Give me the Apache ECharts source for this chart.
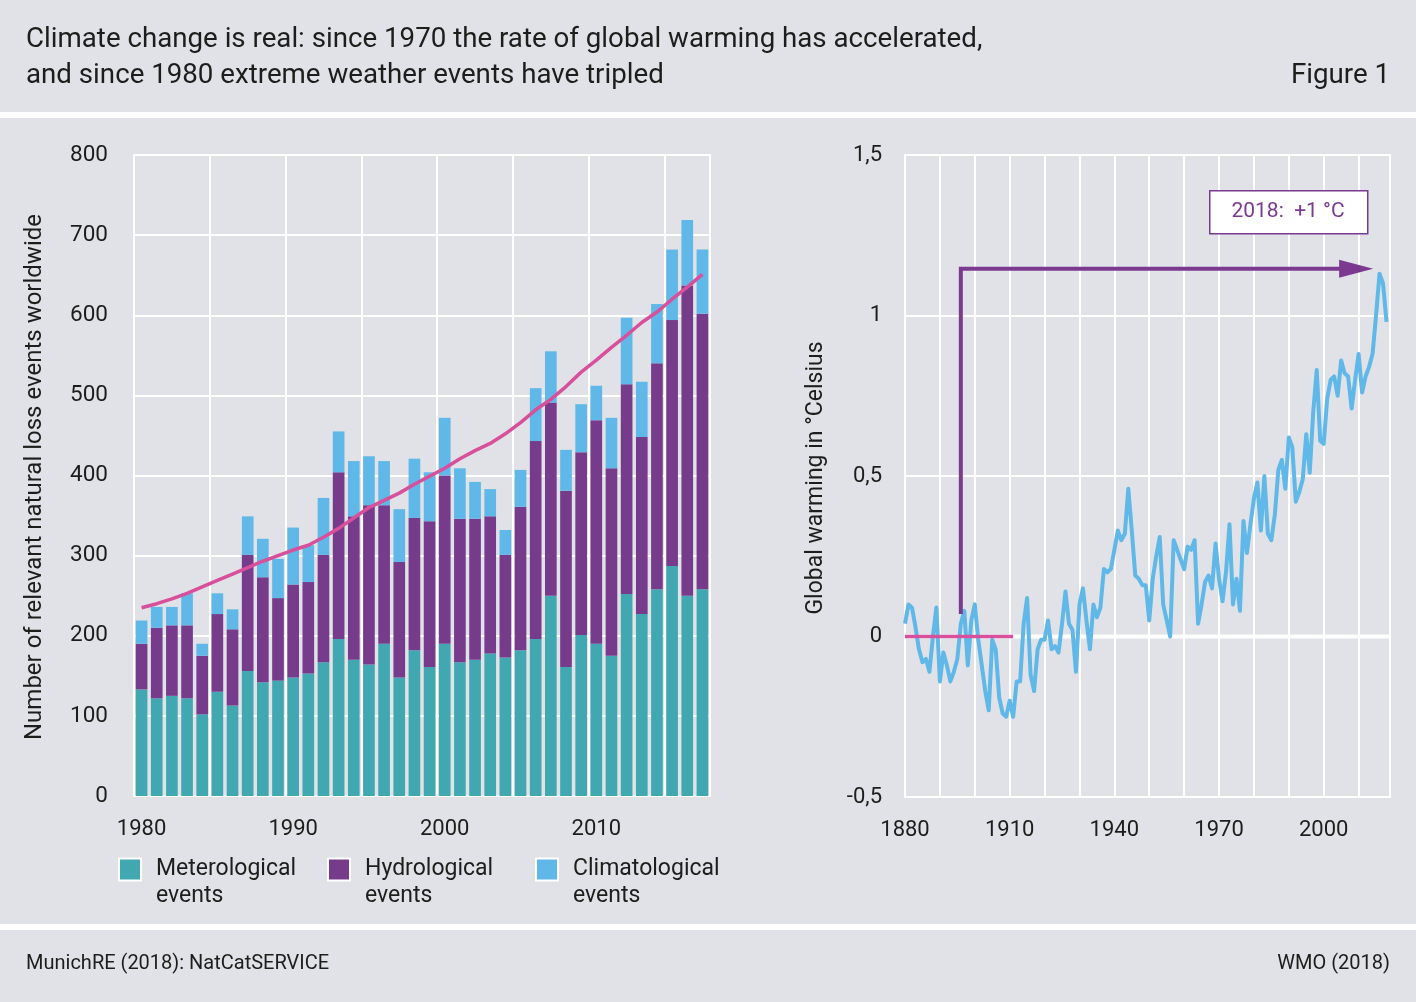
<!DOCTYPE html>
<html><head><meta charset="utf-8">
<script src="https://cdn.jsdelivr.net/npm/echarts@6.0.0/dist/echarts.min.js"></script>
<style>html,body{margin:0;padding:0;background:#e1e2e7;}#c{width:1416px;height:1002px;}</style>
</head><body><div id="c"></div>
<script>
// ---------- Left chart data ----------
const YEARS = ['1980','1981','1982','1983','1984','1985','1986','1987','1988','1989',
  '1990','1991','1992','1993','1994','1995','1996','1997','1998','1999',
  '2000','2001','2002','2003','2004','2005','2006','2007','2008','2009',
  '2010','2011','2012','2013','2014','2015','2016','2017'];
const METEO = [133,122,125,122,102,130,113,156,142,144,148,153,167,196,170,164,190,148,182,161,
  190,167,170,178,173,182,196,250,161,201,190,175,252,227,258,287,250,258];
const HYDRO = [57,88,88,91,73,97,95,145,131,103,116,114,134,208,179,199,173,144,165,182,
  210,179,176,171,128,179,247,241,220,228,279,234,262,221,282,307,387,344];
const CLIMA = [29,26,23,40,15,26,25,48,48,49,71,46,71,51,69,61,55,66,74,61,
  72,63,46,34,31,46,66,64,51,60,43,63,83,69,74,88,82,80];
const TREND = [235,240,246,253,261,269,277,285,293,300,307,313,323,334,347,360,369,378,389,399,
  409,421,431,440,452,466,482,495,511,529,544,560,575,591,604,620,635,651];
const LEFT_Y_TICKS = [0,100,200,300,400,500,600,700,800];

// ---------- Right chart data ----------
const TEMP_START = 1880;
const TEMP = [0.04,0.10,0.09,0.03,-0.04,-0.08,-0.07,-0.11,0.00,0.09,
  -0.14,-0.05,-0.09,-0.14,-0.11,-0.07,0.04,0.08,-0.09,0.05,
  0.10,-0.01,-0.09,-0.17,-0.23,-0.01,-0.04,-0.19,-0.24,-0.25,
  -0.20,-0.25,-0.14,-0.14,0.04,0.12,-0.12,-0.17,-0.04,-0.01,
  -0.01,0.05,-0.04,-0.03,-0.05,0.04,0.14,0.04,0.02,-0.11,
  0.10,0.15,0.05,-0.04,0.10,0.06,0.09,0.21,0.20,0.21,
  0.27,0.33,0.30,0.32,0.46,0.33,0.19,0.18,0.16,0.16,
  0.05,0.18,0.25,0.31,0.10,0.05,0.00,0.30,0.27,0.24,
  0.21,0.28,0.27,0.30,0.04,0.10,0.17,0.19,0.15,0.29,
  0.18,0.11,0.20,0.35,0.10,0.18,0.08,0.36,0.26,0.35,
  0.43,0.48,0.33,0.50,0.32,0.30,0.38,0.52,0.55,0.46,
  0.62,0.59,0.42,0.45,0.49,0.63,0.51,0.70,0.83,0.61,
  0.60,0.74,0.80,0.81,0.75,0.86,0.82,0.81,0.71,0.80,
  0.88,0.76,0.81,0.84,0.88,1.00,1.13,1.10,0.98];
const BASELINE = [[1880,0],[1911,0]];
const ARROW = [[1896,0.07],[1896,1.146],[2009.3,1.146]];
const RIGHT_X = {min:1880, max:2019, step:10, labelStep:30};
const RIGHT_Y = {min:-0.5, max:1.5, step:0.5};
const ANNOT_TEXT = '2018:  +1 °C';

const C = {bg:'#e1e2e7', teal:'#41a8b2', purple:'#773b8b', blue:'#5fb8e7', pink:'#d84f9b', arrow:'#7b3a90', text:'#1d1d1b'};
const FONT = 'Roboto';

const tempData = TEMP.map((v,i)=>[TEMP_START+i, v]);

const chart = echarts.init(document.getElementById('c'), null, {renderer:'canvas'});
const lbl = {color:C.text, fontFamily:FONT, fontSize:22};

function legendCfg(name, left){
  return {
    left:left, top:829, padding:0, orient:'horizontal', icon:'rect',
    itemWidth:22, itemHeight:22, itemGap:0,
    data:[name],
    itemStyle:{borderColor:'#fff', borderWidth:2},
    formatter: n => '\n' + n + '\nevents',
    textStyle:{color:C.text, fontFamily:FONT, fontSize:23, lineHeight:27, padding:[0,0,0,10]},
    selectedMode:false
  };
}

chart.setOption({
  backgroundColor:C.bg,
  animation:false,
  grid:[
    {left:134, right:706, top:155, bottom:206, show:true, borderColor:'#fff', borderWidth:2, containLabel:false},
    {left:905, right:26, top:155, bottom:205, show:true, borderColor:'#fff', borderWidth:2, containLabel:false}
  ],
  legend:[ legendCfg('Meterological',118), legendCfg('Hydrological',327), legendCfg('Climatological',535) ],
  xAxis:[
    {type:'category', gridIndex:0, data:YEARS, boundaryGap:true,
      axisLine:{show:false}, axisTick:{show:false},
      axisLabel:Object.assign({interval:9, margin:22}, lbl),
      splitLine:{show:true, interval:4, lineStyle:{color:'#fff', width:2}}},
    {type:'value', gridIndex:1, min:RIGHT_X.min, max:RIGHT_X.max, interval:RIGHT_X.step,
      axisLine:{show:false}, axisTick:{show:false},
      axisLabel:Object.assign({margin:22, formatter:v => ((v-RIGHT_X.min)%RIGHT_X.labelStep===0 ? String(v) : '')}, lbl),
      splitLine:{show:true, lineStyle:{color:'#fff', width:2}}}
  ],
  yAxis:[
    {type:'value', gridIndex:0, min:LEFT_Y_TICKS[0], max:LEFT_Y_TICKS[LEFT_Y_TICKS.length-1], interval:100,
      axisLine:{show:false}, axisTick:{show:false},
      axisLabel:Object.assign({margin:26}, lbl, {fontSize:22.5}),
      splitLine:{show:true, lineStyle:{color:'#fff', width:2}}},
    {type:'value', gridIndex:1, min:RIGHT_Y.min, max:RIGHT_Y.max, interval:RIGHT_Y.step,
      axisLine:{show:false}, axisTick:{show:false},
      axisLabel:Object.assign({margin:23, formatter:v => String(v).replace('.', ',')}, lbl),
      splitLine:{show:true, lineStyle:{color:'#fff', width:2}}}
  ],
  series:[
    {name:'Meterological', type:'bar', stack:'ev', xAxisIndex:0, yAxisIndex:0, data:METEO, barWidth:'77%', itemStyle:{color:C.teal}},
    {name:'Hydrological', type:'bar', stack:'ev', xAxisIndex:0, yAxisIndex:0, data:HYDRO, barWidth:'77%', itemStyle:{color:C.purple}},
    {name:'Climatological', type:'bar', stack:'ev', xAxisIndex:0, yAxisIndex:0, data:CLIMA, barWidth:'77%', itemStyle:{color:C.blue}},
    {name:'Trend', type:'line', xAxisIndex:0, yAxisIndex:0, data:TREND, symbol:'none', z:5,
      lineStyle:{color:C.pink, width:3.5}},
    {name:'Zero', type:'line', xAxisIndex:1, yAxisIndex:1, data:[[RIGHT_X.min,0],[RIGHT_X.max,0]], symbol:'none', z:1, silent:true,
      lineStyle:{color:'#fff', width:4}},
    {name:'Global warming', type:'line', xAxisIndex:1, yAxisIndex:1, data:tempData, symbol:'none', z:3,
      lineStyle:{color:C.blue, width:4, join:'round'}},
    {name:'Baseline', type:'line', xAxisIndex:1, yAxisIndex:1, data:BASELINE, symbol:'none', z:4,
      lineStyle:{color:C.pink, width:3.5}},
    {name:'Arrow', type:'line', xAxisIndex:1, yAxisIndex:1, z:4, symbol:'none', showSymbol:true,
      data: ARROW.map((p,i)=> i===ARROW.length-1 ? {value:p, symbol:'triangle', symbolSize:[18,34], symbolRotate:-90, itemStyle:{color:C.arrow}} : {value:p}),
      lineStyle:{color:C.arrow, width:4, join:'miter'}, itemStyle:{color:C.arrow}}
  ],
  graphic:[
    {type:'rect', left:0, top:112, shape:{width:1416, height:6}, style:{fill:'#fff'}, silent:true},
    {type:'rect', left:0, top:924, shape:{width:1416, height:6}, style:{fill:'#fff'}, silent:true},
    {type:'text', x:26, y:40, style:{text:'Climate change is real: since 1970 the rate of global warming has accelerated,', fill:C.text, fontFamily:FONT, fontSize:27.7, verticalAlign:'middle'}},
    {type:'text', x:26, y:76, style:{text:'and since 1980 extreme weather events have tripled', fill:C.text, fontFamily:FONT, fontSize:27.7, verticalAlign:'middle'}},
    {type:'text', x:1390, y:76, style:{text:'Figure 1', fill:C.text, fontFamily:FONT, fontSize:27.7, align:'right', verticalAlign:'middle'}},
    {type:'text', x:26, y:964, style:{text:'MunichRE (2018): NatCatSERVICE', fill:C.text, fontFamily:FONT, fontSize:20, verticalAlign:'middle'}},
    {type:'text', x:1390, y:964, style:{text:'WMO (2018)', fill:C.text, fontFamily:FONT, fontSize:20, align:'right', verticalAlign:'middle'}},
    {type:'text', x:35, y:477, rotation:Math.PI/2, style:{text:'Number of relevant natural loss events worldwide', fill:C.text, fontFamily:FONT, fontSize:24, align:'center', verticalAlign:'middle'}},
    {type:'text', x:816, y:478, rotation:Math.PI/2, style:{text:'Global warming in °Celsius', fill:C.text, fontFamily:FONT, fontSize:23, align:'center', verticalAlign:'middle'}},
    {type:'rect', left:1209, top:190, shape:{width:158, height:43}, style:{fill:'#fff', stroke:C.arrow, lineWidth:1.5}, z:10},
    {type:'text', x:1288, y:212, z:11, style:{text:ANNOT_TEXT, fill:C.arrow, fontFamily:FONT, fontSize:21, align:'center', verticalAlign:'middle'}}
  ]
});
</script></body></html>
